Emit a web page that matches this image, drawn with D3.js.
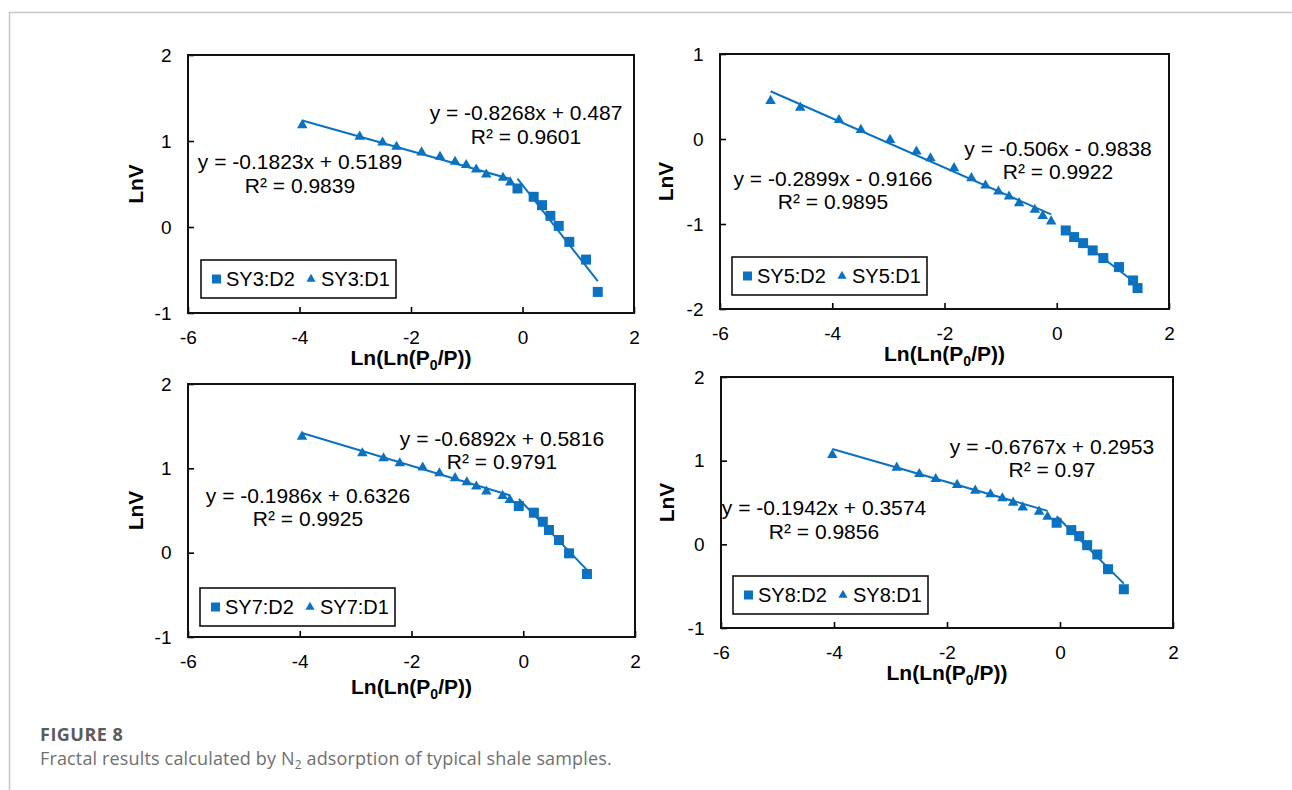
<!DOCTYPE html>
<html>
<head>
<meta charset="utf-8">
<script src="https://cdn.jsdelivr.net/npm/d3@7"></script>
<style>
  body { margin: 0; background: #fff; }
  svg { display: block; }
</style>
</head>
<body>
<svg id="fig" width="1292" height="790"></svg>
<script>
// ---- Sample names and axis ticks ----
const samples = ["SY3", "SY5", "SY7", "SY8"];
const xTicks = [-6, -4, -2, 0, 2];
const yTicksA = [-1, 0, 1, 2];
const yTicksB = [-2, -1, 0, 1];

// ---- SY3 ----
const sy3D1x = [-3.95, -2.92, -2.51, -2.26, -1.81, -1.48, -1.21, -1.01, -0.83, -0.65, -0.35, -0.22];
const sy3D1y = [1.185, 1.05, 0.983, 0.933, 0.867, 0.816, 0.758, 0.72, 0.669, 0.611, 0.572, 0.518];
const sy3D2x = [-0.09, 0.20, 0.35, 0.50, 0.65, 0.84, 1.14, 1.35];
const sy3D2y = [0.448, 0.351, 0.254, 0.130, 0.013, -0.173, -0.379, -0.755];
const sy3Fit = { d1: [-0.1823, 0.5189, 0.9839], d2: [-0.8268, 0.487, 0.9601] };

// ---- SY5 ----
const sy5D1x = [-5.10, -4.57, -3.88, -3.49, -2.97, -2.50, -2.25, -1.83, -1.52, -1.27, -1.04, -0.85, -0.67, -0.39, -0.25, -0.10];
const sy5D1y = [0.448, 0.369, 0.224, 0.107, -0.011, -0.148, -0.226, -0.343, -0.461, -0.547, -0.618, -0.676, -0.755, -0.833, -0.904, -0.970];
const sy5D2x = [0.16, 0.31, 0.47, 0.64, 0.83, 1.11, 1.36, 1.44];
const sy5D2y = [-1.076, -1.154, -1.225, -1.311, -1.401, -1.507, -1.664, -1.754];
const sy5Fit = { d1: [-0.2899, -0.9166, 0.9895], d2: [-0.506, -0.9838, 0.9922] };

// ---- SY7 ----
const sy7D1x = [-3.96, -2.88, -2.50, -2.21, -1.80, -1.50, -1.22, -1.01, -0.84, -0.66, -0.37, -0.24];
const sy7D1y = [1.376, 1.179, 1.120, 1.060, 1.009, 0.942, 0.883, 0.835, 0.784, 0.725, 0.673, 0.626];
const sy7D2x = [-0.08, 0.19, 0.35, 0.46, 0.64, 0.82, 1.14];
const sy7D2y = [0.553, 0.474, 0.367, 0.269, 0.150, -0.008, -0.253];
const sy7Fit = { d1: [-0.1986, 0.6326, 0.9925], d2: [-0.6892, 0.5816, 0.9791] };

// ---- SY8 ----
const sy8D1x = [-4.03, -2.89, -2.49, -2.20, -1.82, -1.50, -1.23, -1.02, -0.83, -0.66, -0.37, -0.22];
const sy8D1y = [1.069, 0.917, 0.841, 0.781, 0.710, 0.642, 0.598, 0.550, 0.498, 0.442, 0.390, 0.330];
const sy8D2x = [-0.06, 0.20, 0.34, 0.48, 0.66, 0.85, 1.13];
const sy8D2y = [0.258, 0.170, 0.098, -0.010, -0.121, -0.297, -0.537];
const sy8Fit = { d1: [-0.1942, 0.3574, 0.9856], d2: [-0.6767, 0.2953, 0.97] };

// ---- Styling ----
const BLUE = "#0b72c1";
const FONT = "'Liberation Sans', Arial, Helvetica, sans-serif";
const TICK_FS = 19, EQ_FS = 21, LEG_FS = 20, TITLE_FS = 21;

const svg = d3.select("#fig");

// Page frame
svg.append("line").attr("x1", 9).attr("x2", 1292).attr("y1", 12.5).attr("y2", 12.5)
  .attr("stroke", "#c8c8c8").attr("stroke-width", 1.5);
svg.append("line").attr("x1", 9.5).attr("x2", 9.5).attr("y1", 12).attr("y2", 790)
  .attr("stroke", "#c8c8c8").attr("stroke-width", 1.5);

// Panel layout: plot rectangle, label placement (pixels)
const panels = [
  { name: samples[0], d1x: sy3D1x, d1y: sy3D1y, d2x: sy3D2x, d2y: sy3D2y, fit: sy3Fit, yTicks: yTicksA,
    box: [188, 55, 634, 313], eq2: [526, 113, 137], eq1: [300, 162, 186], leg: [201, 260], titleDy: 45, ylabX: 136 },
  { name: samples[1], d1x: sy5D1x, d1y: sy5D1y, d2x: sy5D2x, d2y: sy5D2y, fit: sy5Fit, yTicks: yTicksB,
    box: [720, 54, 1169, 309], eq2: [1058, 149, 172], eq1: [833, 179, 202], leg: [732, 257], titleDy: 45, ylabX: 666 },
  { name: samples[2], d1x: sy7D1x, d1y: sy7D1y, d2x: sy7D2x, d2y: sy7D2y, fit: sy7Fit, yTicks: yTicksA,
    box: [188, 384, 635, 637], eq2: [502, 439, 462], eq1: [308, 496, 519], leg: [200, 588], titleDy: 50, ylabX: 136 },
  { name: samples[3], d1x: sy8D1x, d1y: sy8D1y, d2x: sy8D2x, d2y: sy8D2y, fit: sy8Fit, yTicks: yTicksA,
    box: [721, 377, 1173, 628], eq2: [1052, 447, 470], eq1: [824, 508, 532], leg: [733, 576], titleDy: 45, ylabX: 667 }
];

function fmtSigned(v) {
  return v < 0 ? " - " + Math.abs(v) : " + " + v;
}

// Text whose digit centre sits at y
function centerText(g, x, y, str, fs, anchor, weight) {
  return g.append("text")
    .attr("x", x).attr("y", y + 0.355 * fs)
    .attr("text-anchor", anchor || "middle")
    .attr("font-family", FONT).attr("font-size", fs)
    .attr("font-weight", weight || "normal")
    .attr("fill", "#000")
    .text(str);
}

panels.forEach(p => {
  const [L, T, R, B] = p.box;
  const x = d3.scaleLinear().domain([-6, 2]).range([L, R]);
  const y = d3.scaleLinear().domain([p.yTicks[0], p.yTicks[p.yTicks.length - 1]]).range([B, T]);
  const g = svg.append("g");

  // Axes with inside ticks
  const ax = g.append("g").attr("transform", `translate(0,${B})`)
    .call(d3.axisBottom(x).tickValues(xTicks).tickFormat(d => String(d))
      .tickSizeInner(-6).tickSizeOuter(0).tickPadding(18));
  const ay = g.append("g").attr("transform", `translate(${L},0)`)
    .call(d3.axisLeft(y).tickValues(p.yTicks).tickFormat(d => String(d))
      .tickSizeInner(-6).tickSizeOuter(0).tickPadding(16.5));
  [ax, ay].forEach(a => {
    a.select(".domain").remove();
    a.selectAll("line").attr("stroke", "#000").attr("stroke-width", 1.6);
    a.selectAll("text").attr("font-family", FONT).attr("font-size", TICK_FS).attr("fill", "#000");
  });

  // Plot border
  g.append("rect").attr("x", L).attr("y", T).attr("width", R - L).attr("height", B - T)
    .attr("fill", "none").attr("stroke", "#111").attr("stroke-width", 2);

  // Trend lines over each series range
  const trend = (xs, fit) => {
    const x0 = d3.min(xs), x1 = d3.max(xs);
    g.append("line")
      .attr("x1", x(x0)).attr("y1", y(fit[0] * x0 + fit[1]))
      .attr("x2", x(x1)).attr("y2", y(fit[0] * x1 + fit[1]))
      .attr("stroke", BLUE).attr("stroke-width", 2);
  };
  trend(p.d1x, p.fit.d1);
  trend(p.d2x, p.fit.d2);

  // D1 triangles
  const tri = d3.symbol().type(d3.symbolTriangle).size(48);
  g.selectAll(".tri").data(p.d1x.map((v, i) => [v, p.d1y[i]])).join("path")
    .attr("d", tri).attr("transform", d => `translate(${x(d[0])},${y(d[1])})`)
    .attr("fill", BLUE);

  // D2 squares
  g.selectAll(".sq").data(p.d2x.map((v, i) => [v, p.d2y[i]])).join("rect")
    .attr("x", d => x(d[0]) - 5).attr("y", d => y(d[1]) - 5)
    .attr("width", 10).attr("height", 10).attr("fill", BLUE);

  // Regression equations
  const eqLine = f => "y = " + f[0] + "x" + fmtSigned(f[1]);
  centerText(g, p.eq2[0], p.eq2[1], eqLine(p.fit.d2), EQ_FS);
  centerText(g, p.eq2[0], p.eq2[2], "R\u00B2 = " + p.fit.d2[2], EQ_FS);
  centerText(g, p.eq1[0], p.eq1[1], eqLine(p.fit.d1), EQ_FS);
  centerText(g, p.eq1[0], p.eq1[2], "R\u00B2 = " + p.fit.d1[2], EQ_FS);

  // Legend
  const [lx, ly] = p.leg;
  const lw = 195, lh = 38, lc = ly + lh / 2;
  g.append("rect").attr("x", lx).attr("y", ly).attr("width", lw).attr("height", lh)
    .attr("fill", "#fff").attr("stroke", "#111").attr("stroke-width", 1.6);
  g.append("rect").attr("x", lx + 11).attr("y", lc - 4.5).attr("width", 9).attr("height", 9).attr("fill", BLUE);
  centerText(g, lx + 25, lc, p.name + ":D2", LEG_FS, "start");
  g.append("path").attr("d", d3.symbol().type(d3.symbolTriangle).size(36))
    .attr("transform", `translate(${lx + 110},${lc})`).attr("fill", BLUE);
  centerText(g, lx + 120, lc, p.name + ":D1", LEG_FS, "start");

  // X axis title with subscript
  const xt = g.append("text")
    .attr("x", (L + R) / 2).attr("y", B + p.titleDy + 0.355 * TITLE_FS)
    .attr("text-anchor", "middle").attr("font-family", FONT)
    .attr("font-size", TITLE_FS).attr("font-weight", "bold").attr("fill", "#000");
  xt.append("tspan").text("Ln(Ln(P");
  xt.append("tspan").attr("font-size", 14).attr("dy", 5).text("0");
  xt.append("tspan").attr("dy", -5).text("/P))");

  // Y axis title
  g.append("text")
    .attr("transform", `translate(${p.ylabX + 0.355 * TITLE_FS},${(T + B) / 2}) rotate(-90)`)
    .attr("text-anchor", "middle").attr("font-family", FONT)
    .attr("font-size", TITLE_FS).attr("font-weight", "bold").attr("fill", "#000")
    .text("LnV");
});

// Caption
svg.append("text").attr("x", 40).attr("y", 741)
  .attr("font-family", "'Open Sans', 'Noto Sans', sans-serif").attr("font-size", 18)
  .attr("letter-spacing", 0.5)
  .attr("font-weight", 700).attr("fill", "#5c5c5c").text("FIGURE 8");
const cap = svg.append("text").attr("x", 40).attr("y", 765)
  .attr("font-family", "'Open Sans', 'Noto Sans', sans-serif").attr("font-size", 18)
  .attr("letter-spacing", 0.15)
  .attr("fill", "#707070");
cap.append("tspan").text("Fractal results calculated by N");
cap.append("tspan").attr("font-size", 12).attr("dy", 4).text("2");
cap.append("tspan").attr("dy", -4).text(" adsorption of typical shale samples.");
</script>
</body>
</html>
